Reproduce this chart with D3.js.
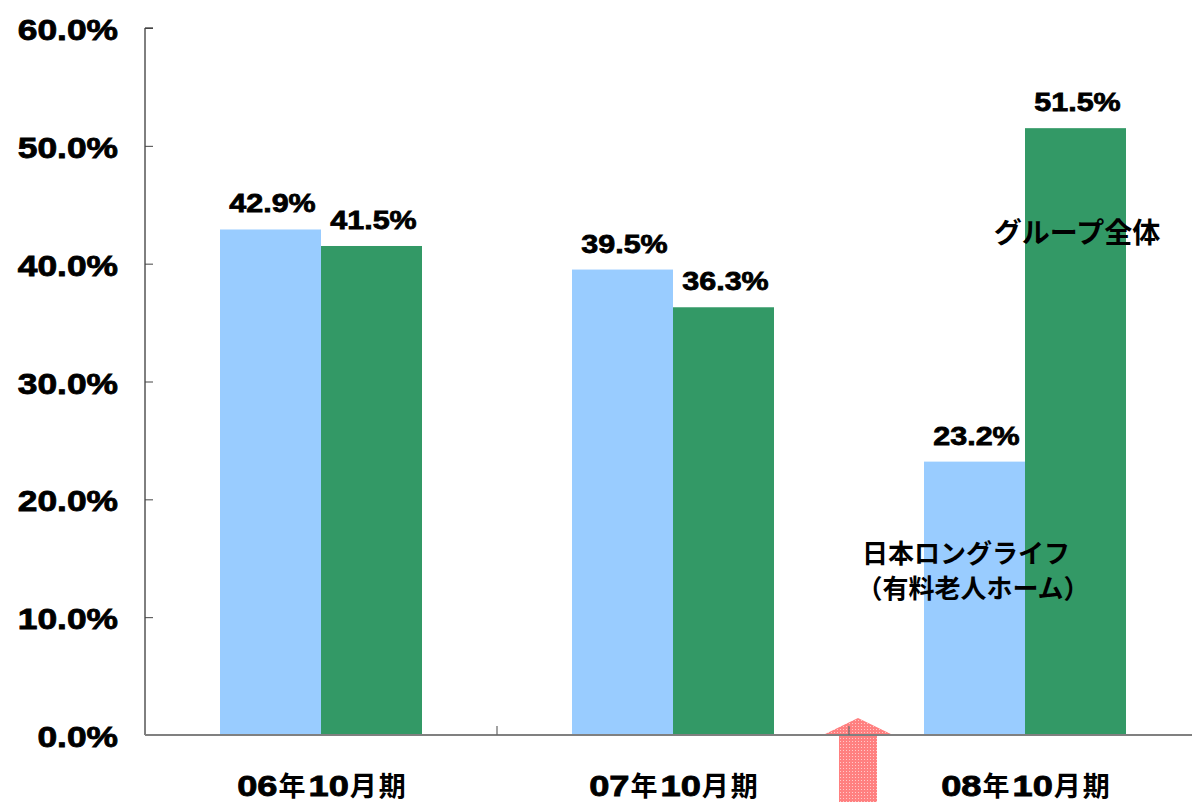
<!DOCTYPE html>
<html><head><meta charset="utf-8">
<script src="https://cdn.jsdelivr.net/npm/d3@7"></script>
<style>body{margin:0;background:#fff}</style>
</head><body>
<svg id="c" width="1192" height="802"></svg>
<script>
const categories = ["06年10月期", "07年10月期", "08年10月期"];
const seriesNames = ["日本ロングライフ（有料老人ホーム）", "グループ全体"];
const seriesNursing = [42.9, 39.5, 23.2];
const seriesGroup = [41.5, 36.3, 51.5];
const yTicks = [0, 10, 20, 30, 40, 50, 60];

(function() {
const svg = d3.select("#c");
const mLeft = 145, mTop = 28, mBottom = 735;
const x = d3.scaleBand().domain(categories).range([mLeft, mLeft + 352 * 3]).paddingInner(0).paddingOuter(0);
const y = d3.scaleLinear().domain([0, 60]).range([mBottom, mTop]);
const colors = ["#99CCFF", "#339966"];
const series = [seriesNursing, seriesGroup];
const font = "'Liberation Sans', Arial, sans-serif";
const jfont = "'Noto Sans CJK JP', sans-serif";
const bw = 101;
const WIDE = 1.22;
const heavy = sel => sel.attr("stroke", "#000").attr("stroke-width", 0.8).attr("paint-order", "stroke");

series.forEach((vals, si) => {
  svg.append("g").selectAll("rect").data(vals).join("rect")
    .attr("x", (d, i) => x(categories[i]) + x.bandwidth() / 2 - bw + si * bw)
    .attr("y", d => y(d))
    .attr("width", bw)
    .attr("height", d => mBottom - y(d))
    .attr("fill", colors[si]);
  svg.append("g").selectAll("text").data(vals).join("text")
    .attr("transform", (d, i) => `translate(${x(categories[i]) + x.bandwidth() / 2 - bw + si * bw + bw / 2 + 2},${y(d) - 17}) scale(1.15,1)`)
    .attr("text-anchor", "middle")
    .attr("font-family", font).attr("font-weight", "bold").attr("font-size", 26.5)
    .call(heavy)
    .text(d => d.toFixed(1) + "%");
});

// arrow
const defs = svg.append("defs");
const pat = defs.append("pattern").attr("id", "dots").attr("width", 3).attr("height", 3).attr("patternUnits", "userSpaceOnUse");
pat.append("rect").attr("width", 3).attr("height", 3).attr("fill", "#FF8080");
pat.append("rect").attr("width", 1).attr("height", 1).attr("fill", "#FFC8C8");
const ax = x(categories[2]) + 9;
svg.append("path")
  .attr("d", `M${ax - 19},802 L${ax - 19},736 L${ax - 37},736 L${ax},718 L${ax + 37},736 L${ax + 19},736 L${ax + 19},802 Z`)
  .attr("fill", "url(#dots)");

// y axis
const yAxis = svg.append("g").attr("transform", `translate(${mLeft},0)`)
  .call(d3.axisRight(y).tickValues(yTicks).tickSize(8).tickFormat(d => d.toFixed(1) + "%"));
yAxis.select(".domain").attr("stroke", "#000").attr("d", `M8,${mTop}H0V${mBottom}`);
yAxis.selectAll(".tick line").attr("stroke", "#444");
yAxis.selectAll(".tick text").attr("x", 0).attr("dy", "0.4em").attr("text-anchor", "end")
  .attr("transform", `translate(-27,0) scale(${WIDE},1)`)
  .attr("font-family", font).attr("font-weight", "bold").attr("font-size", 29).attr("fill", "#000")
  .call(heavy);

// x axis
const xg = svg.append("g").attr("transform", `translate(0,${mBottom})`);
xg.append("line").attr("x1", mLeft).attr("x2", 1192).attr("y1", 0).attr("y2", 0).attr("stroke", "#808080").attr("stroke-width", 2);
xg.selectAll("line.t").data(categories.slice(1)).join("line").attr("class", "t")
  .attr("x1", d => x(d)).attr("x2", d => x(d)).attr("y1", 0).attr("y2", -9).attr("stroke", "#666").attr("stroke-width", 1.2);

categories.forEach(cat => {
  const m = cat.match(/^(\d+)(年)(\d+)(月期)$/);
  const parts = [[m[1], true], [m[2], false], [m[3], true], [m[4], false]];
  const g = xg.append("g");
  let cx = 0;
  parts.forEach(([s, isNum]) => {
    const t = g.append("text").attr("y", 0)
      .attr("font-family", isNum ? font : jfont).attr("font-weight", "bold")
      .attr("font-size", isNum ? 29 : 27).attr("letter-spacing", isNum ? 0 : 2).text(s);
    const sx = isNum ? 1.25 : 1;
    if (isNum) heavy(t);
    const w = t.node().getComputedTextLength() * sx;
    t.attr("transform", `translate(${cx},0) scale(${sx},1)`);
    cx += w + 1;
  });
  g.attr("transform", `translate(${x(cat) + x.bandwidth() / 2 - cx / 2 + 2},61)`);
});

// annotations
svg.append("text").attr("x", 1077).attr("y", 243).attr("text-anchor", "middle")
  .attr("font-family", jfont).attr("font-weight", "bold").attr("font-size", 28).text(seriesNames[1]);
svg.append("text").attr("x", 966).attr("y", 563).attr("text-anchor", "middle")
  .attr("font-family", jfont).attr("font-weight", "bold").attr("font-size", 26).text("日本ロングライフ");
svg.append("text").attr("x", 973).attr("y", 598).attr("text-anchor", "middle")
  .attr("font-family", jfont).attr("font-weight", "bold").attr("font-size", 26).text("（有料老人ホーム）");
})();
</script>
</body></html>
